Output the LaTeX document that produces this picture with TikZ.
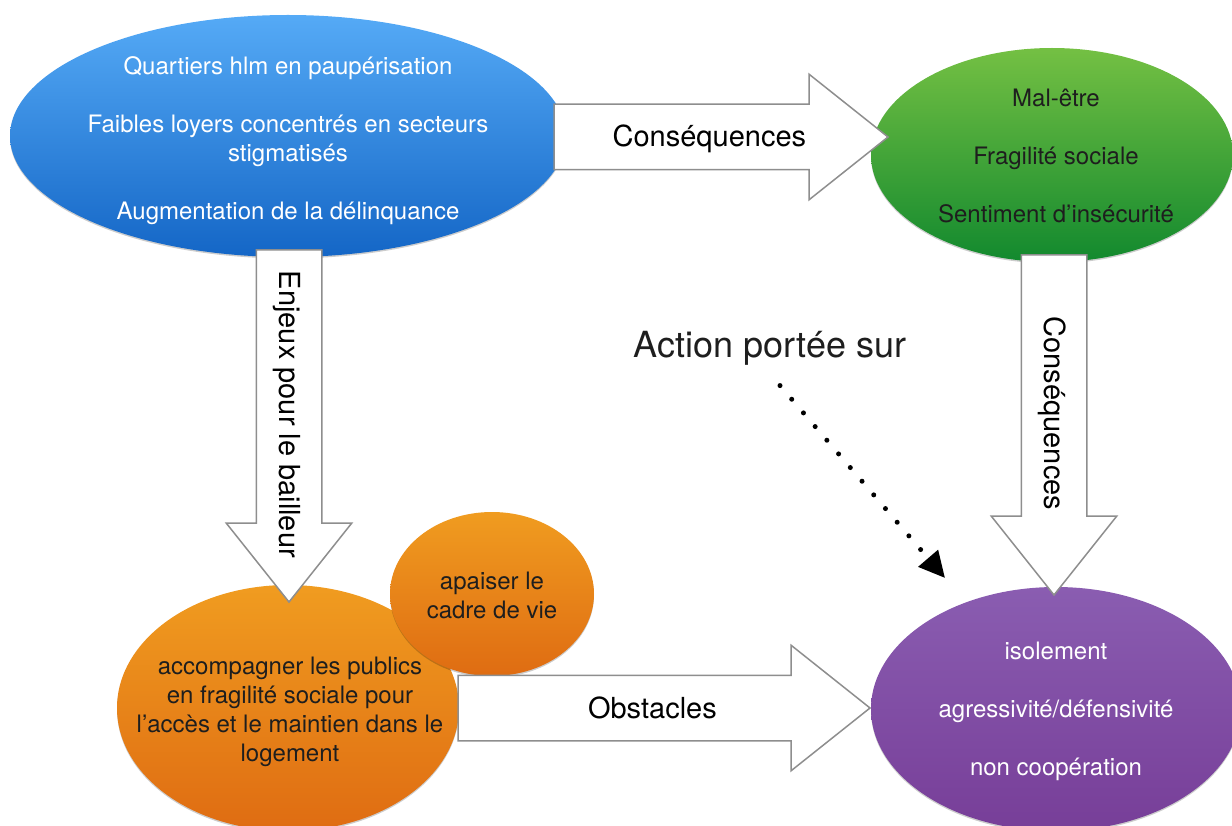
\documentclass[tikz,border=0pt]{standalone}
\usepackage{fontspec}
\setmainfont{TeX Gyre Heros}
\usetikzlibrary{shapes.geometric,shapes.arrows,arrows.meta,shadows,positioning}

\definecolor{bluetop}{HTML}{55AAF6}
\definecolor{bluebot}{HTML}{1466C6}
\definecolor{greentop}{HTML}{74C043}
\definecolor{greenbot}{HTML}{12892E}
\definecolor{orangetop}{HTML}{F09C20}
\definecolor{orangebot}{HTML}{DF6C12}
\definecolor{purpletop}{HTML}{8A5DB1}
\definecolor{purplebot}{HTML}{773E98}
\definecolor{arrowline}{HTML}{8E8E8E}
\definecolor{darktext}{HTML}{1E1E1E}

\tikzset{
  bubble/.style={ellipse, inner sep=0pt, drop shadow={shadow xshift=0pt, shadow yshift=-1.5pt, opacity=.2, fill=black}},
  bubtext/.style={align=center, font=\fontsize{24}{29}\selectfont},
  bigarrow/.style={single arrow, draw=arrowline, line width=1.5pt, fill=white, text=black,
    single arrow head extend=30pt, single arrow tip angle=77, text height=20pt, text depth=0pt,
    inner ysep=22pt, inner xsep=0pt, outer sep=0pt, font=\fontsize{29}{29}\selectfont,
    execute at begin node=\hspace*{18pt}},
  dotarrow/.style={line width=5pt, line cap=round, dash pattern=on 0pt off 18pt, -{Triangle[length=26pt,width=25pt]}}
}

\begin{document}
\begin{tikzpicture}[x=1pt,y=-1pt]
\useasboundingbox (0,0) rectangle (1232,826);

% bubbles
\node[bubble, top color=bluetop, bottom color=bluebot, minimum width=556pt, minimum height=242pt] (quartiers) at (288,136) {};
\node[bubble, top color=greentop, bottom color=greenbot, minimum width=362pt, minimum height=214pt] (malaise) at (1052,155) {};
\node[bubble, top color=purpletop, bottom color=purplebot, minimum width=370pt, minimum height=244pt] (isolement) at (1056,709) {};
\node[bubble, top color=orangetop, bottom color=orangebot, minimum width=342pt, minimum height=246pt] (accomp) at (288,708) {};
\node[bubble, top color=orangetop, bottom color=orangebot, minimum width=204pt, minimum height=164pt] (apaiser) at (492,594) {};

\node[bubtext, white] (quartierstxt) at (288,141) {Quartiers hlm en paupérisation\\[29pt]Faibles loyers concentrés en secteurs\\stigmatisés\\[29pt]Augmentation de la délinquance};
\node[bubtext, darktext] (malaisetxt) at (1056,156) {Mal-être\\[29pt]Fragilité sociale\\[29pt]Sentiment d’insécurité};
\node[bubtext, white] (isolementtxt) at (1056,711) {isolement\\[29pt]agressivité/défensivité\\[29pt]non coopération};
\node[bubtext, darktext] (accomptxt) at (290,711.5) {accompagner les publics\\en fragilité sociale pour\\l’accès et le maintien dans le\\logement};
\node[bubtext, darktext] (apaisertxt) at (492,595) {apaiser le\\cadre de vie};

% block arrows
\node[bigarrow, minimum height=334pt, anchor=tail] (csqtop) at (554,137) {Conséquences};
\node[bigarrow, minimum height=352pt, anchor=tail, rotate=-90] (enjeux) at (289,250) {Enjeux pour le bailleur};
\node[bigarrow, minimum height=340pt, anchor=tail, rotate=-90] (csqright) at (1054,255) {Conséquences};
\node[bigarrow, minimum height=412pt, anchor=tail] (obstacles) at (458,708) {Obstacles};

% action
\node[font=\fontsize{36}{36}\selectfont, text=darktext] (action) at (770,348) {Action portée sur};
\coordinate (actionend) at (945,578);
\draw[dotarrow] ([xshift=10pt,yshift=-17pt]action.south) -- (actionend);
\end{tikzpicture}
\end{document}
